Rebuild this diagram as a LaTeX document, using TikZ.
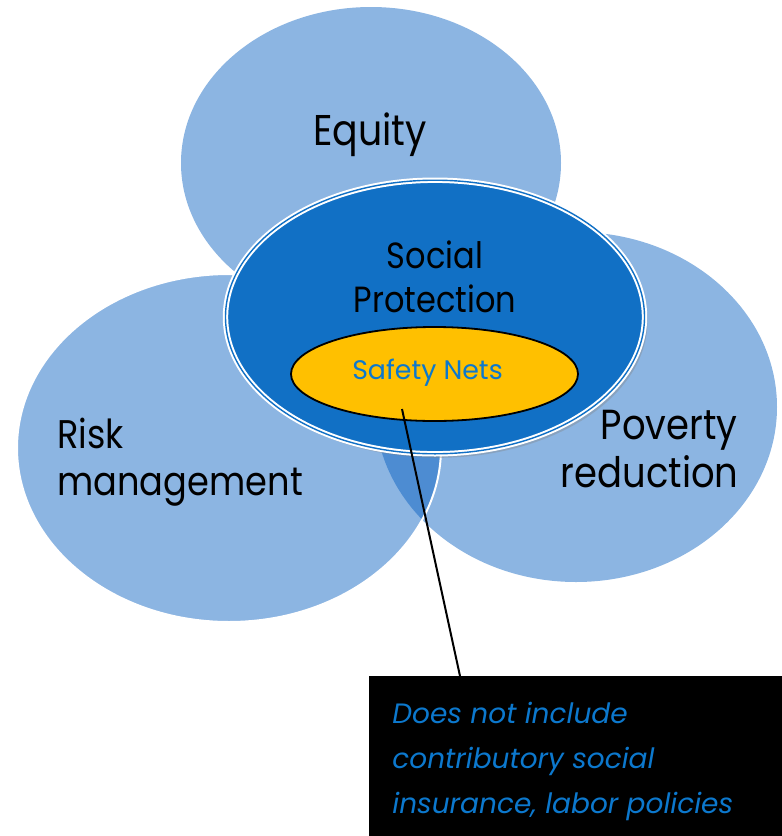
\documentclass[tikz,border=0pt]{standalone}
\usepackage{fontspec}
\setmainfont{Poppins}
\newfontfamily\labelfont{Poppins}[FakeStretch=0.88]
\usetikzlibrary{shapes.geometric,shadows}
\definecolor{ringblue}{RGB}{0,90,190}
\definecolor{spblue}{RGB}{17,112,197}
\definecolor{netyellow}{RGB}{255,192,0}
\definecolor{textblue}{RGB}{12,120,205}
\tikzset{
  ring/.style={ellipse, inner sep=0pt, fill=ringblue, fill opacity=0.45},
  label/.style={inner sep=0pt, font=\labelfont\fontsize{#1}{24}\selectfont},
  notefont/.style={inner sep=0pt, font=\fontsize{14}{18}\selectfont\itshape, text=textblue}
}
\begin{document}
\begin{tikzpicture}[x=0.5pt,y=-0.5pt]
\useasboundingbox (0,0) rectangle (782,836);
% the three circles
\node[ring, minimum width=190pt, minimum height=156pt] (equity) at (371,163) {};
\node[ring, minimum width=201pt, minimum height=175pt] (poverty) at (576,407) {};
\node[ring, draw=white, line width=1pt, minimum width=212pt, minimum height=174pt] (risk) at (229,448) {};
% social protection and safety nets
\node[ellipse, inner sep=0pt, fill=spblue, draw=white, double=spblue, double distance=0.7pt, line width=1pt,
  drop shadow={opacity=0.35, shadow xshift=1.5pt, shadow yshift=-2pt},
  minimum width=209.5pt, minimum height=136.8pt] (sp) at (435,317) {};
\node[ellipse, inner sep=0pt, fill=netyellow, draw=black, line width=0.9pt,
  minimum width=143.5pt, minimum height=47pt] (nets) at (434.5,374) {};
% labels
\node[label=21.5, anchor=base] (eqtext) at (370,145) {Equity};
\node[label=18.2, anchor=base] (sptext1) at (435,268) {Social};
\node[label=18.2, anchor=base] (sptext2) at (435,312) {Protection};
\node[inner sep=0pt, font=\fontsize{13.4}{16}\selectfont, text=textblue, anchor=base] (netstext) at (427.5,379) {Safety Nets};
\node[label=20, anchor=base west] (risktext1) at (57,448) {Risk};
\node[label=20, anchor=base west] (risktext2) at (57,495) {management};
\node[label=21, anchor=base east] (povtext1) at (738,439) {Poverty};
\node[label=21, anchor=base east] (povtext2) at (739,487) {reduction};
% callout
\node[fill=black, inner sep=0pt, anchor=north west, minimum width=206.5pt, minimum height=80pt] (note) at (369,676) {};
\coordinate (tip) at (402,409);
\coordinate (foot) at (460,676);
\draw[line width=1pt] (tip) -- (foot);
\node[notefont, anchor=base west] (notetext1) at (392,723) {Does not include};
\node[notefont, anchor=base west] (notetext2) at (392,768) {contributory social};
\node[notefont, anchor=base west] (notetext3) at (392,813) {insurance, labor policies};
\end{tikzpicture}
\end{document}
